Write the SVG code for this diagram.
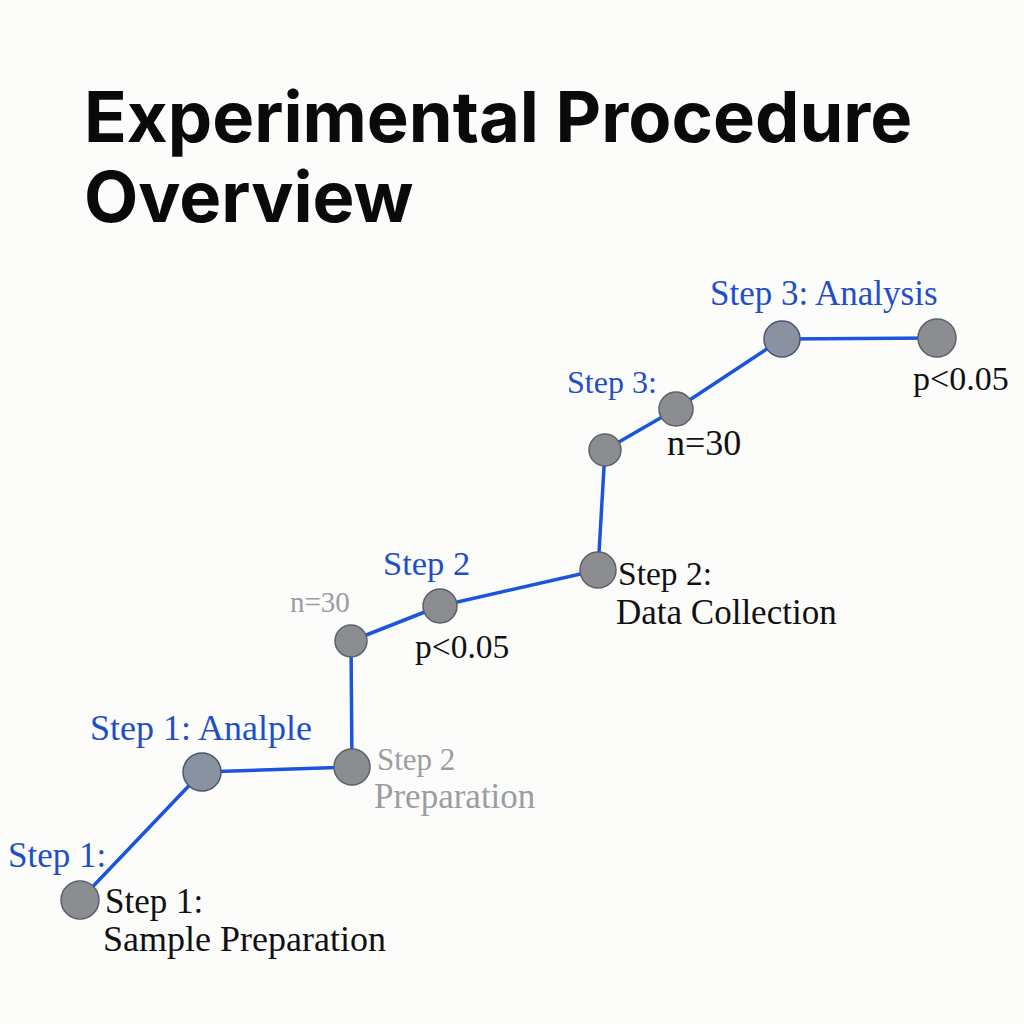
<svg xmlns="http://www.w3.org/2000/svg" width="1024" height="1024" viewBox="0 0 1024 1024">
<style>
.title{font-family:Inter,"Liberation Sans",sans-serif;font-weight:700;font-size:70.5px;fill:#0a0a0a}
.lbl{font-family:"Liberation Serif",serif;font-size:35px}
.blue{fill:#1f4fc8}
.blk{fill:#111}
.gry{fill:#9a9ea4}
.node{fill:#8b8d91;stroke:#5b606a;stroke-width:1.5}
.nodeb{fill:#8a91a0;stroke:#4a5670;stroke-width:1.5}
.edge{stroke:#1a55dd;stroke-width:3.5;fill:none;stroke-linecap:round}
</style>
<rect width="1024" height="1024" fill="#fcfcfb"/>
<text class="title" x="84" y="142">Experimental Procedure</text>
<text class="title" x="84" y="222">Overview</text>
<g id="connectors">
<line class="edge" x1="80" y1="900" x2="202" y2="772"/>
<line class="edge" x1="202" y1="772" x2="352" y2="767"/>
<line class="edge" x1="352" y1="767" x2="351" y2="641"/>
<line class="edge" x1="351" y1="641" x2="440" y2="606"/>
<line class="edge" x1="440" y1="606" x2="598" y2="570"/>
<line class="edge" x1="598" y1="570" x2="605" y2="450"/>
<line class="edge" x1="605" y1="450" x2="676" y2="409"/>
<line class="edge" x1="676" y1="409" x2="782" y2="339"/>
<line class="edge" x1="782" y1="339" x2="937" y2="338"/>
</g>
<g id="n1"><circle class="node" cx="80" cy="900" r="19"/></g>
<g id="n2"><circle class="nodeb" cx="202" cy="772" r="19"/></g>
<g id="n3"><circle class="node" cx="352" cy="767" r="18"/></g>
<g id="n4"><circle class="node" cx="351" cy="641" r="16"/></g>
<g id="n5"><circle class="node" cx="440" cy="606" r="17"/></g>
<g id="n6"><circle class="node" cx="598" cy="570" r="18"/></g>
<g id="n7"><circle class="node" cx="605" cy="450" r="16"/></g>
<g id="n8"><circle class="node" cx="676" cy="409" r="17"/></g>
<g id="n9"><circle class="nodeb" cx="782" cy="339" r="18"/></g>
<g id="n10"><circle class="node" cx="937" cy="338" r="19"/></g>
<g id="labels">
<text class="lbl blue" x="710" y="305">Step 3: Analysis</text>
<text class="lbl blk" x="913" y="390" style="font-size:34px">p&lt;0.05</text>
<text class="lbl blue" x="567" y="393" style="font-size:32px">Step 3:</text>
<text class="lbl blk" x="667" y="455" style="font-size:36px">n=30</text>
<text class="lbl blue" x="383" y="575" style="font-size:34.5px">Step 2</text>
<text class="lbl gry" x="290" y="612" style="font-size:29px">n=30</text>
<text class="lbl blk" x="415" y="658" style="font-size:33.5px">p&lt;0.05</text>
<text class="lbl blk" x="618" y="585" style="font-size:33.5px">Step 2:</text>
<text class="lbl blk" x="616" y="624">Data Collection</text>
<text class="lbl blue" x="90" y="740" style="font-size:36px">Step 1: Analple</text>
<text class="lbl gry" x="377" y="770" style="font-size:31px">Step 2</text>
<text class="lbl gry" x="374" y="808">Preparation</text>
<text class="lbl blue" x="8" y="867">Step 1:</text>
<text class="lbl blk" x="105" y="913">Step 1:</text>
<text class="lbl blk" x="103" y="951" style="font-size:36px">Sample Preparation</text>
</g>
</svg>
